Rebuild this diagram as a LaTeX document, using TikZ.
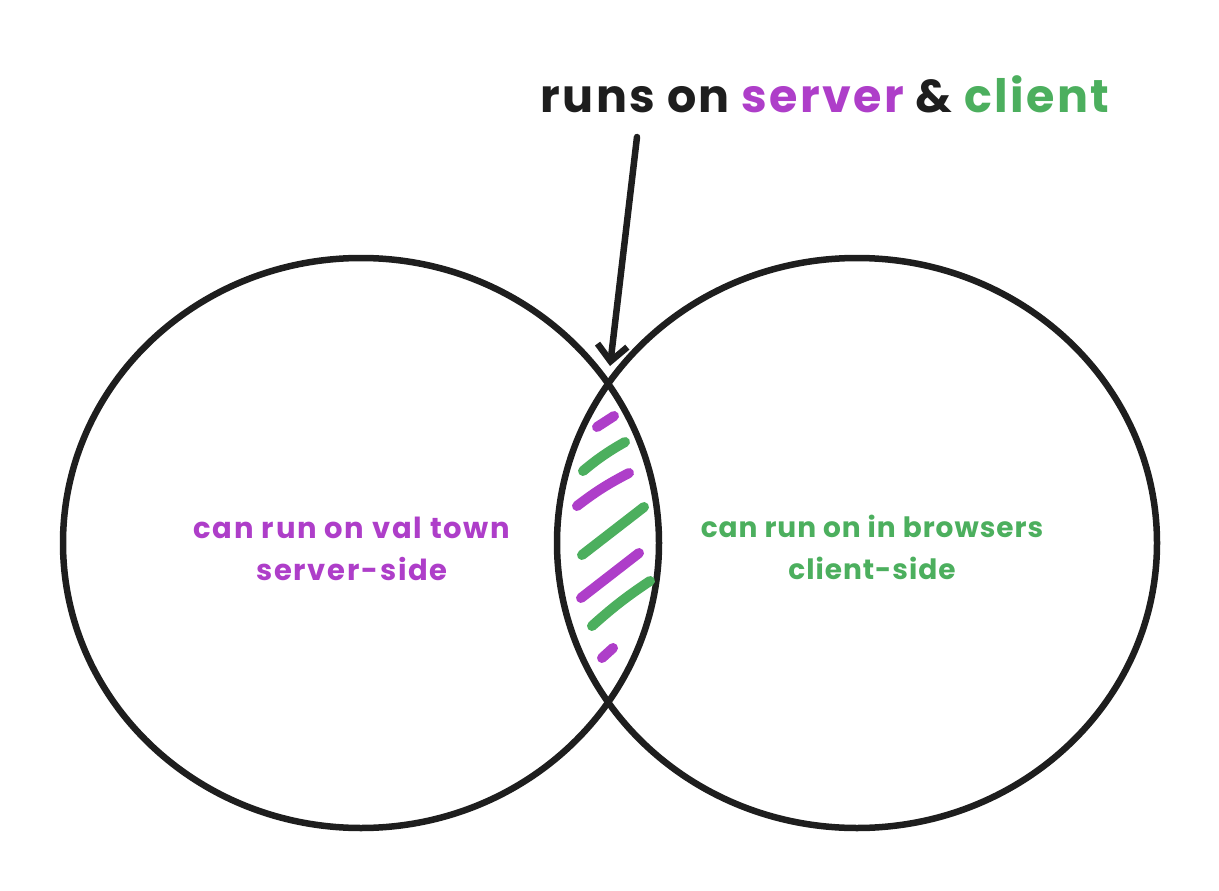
\documentclass[tikz,border=0pt]{standalone}
\usepackage{fontspec}
\setmainfont{Poppins}
\usetikzlibrary{arrows.meta}
\definecolor{ink}{HTML}{1E1E1E}
\definecolor{vio}{HTML}{AE3EC9}
\definecolor{grn}{HTML}{4CAF5E}
\tikzset{
  ring/.style={draw=ink, line width=6.5pt},
  hatchv/.style={draw=vio, line width=10pt, line cap=round},
  hatchg/.style={draw=grn, line width=10pt, line cap=round},
  lbl/.style={font=\fontsize{29}{42}\selectfont\bfseries\addfontfeature{LetterSpace=6}, align=center, inner sep=0pt},
  lblr/.style={font=\fontsize{28}{42}\selectfont\bfseries\addfontfeature{LetterSpace=3.5}, align=center, inner sep=0pt},
  ttl/.style={font=\fontsize{46}{50}\selectfont\bfseries\addfontfeature{LetterSpace=5}, text=ink, inner sep=0pt},
}
\begin{document}
\begin{tikzpicture}[x=1pt,y=-1pt]
\useasboundingbox (0,0) rectangle (1219,891);
% circles
\draw[ring] (361,543) ellipse [x radius=298, y radius=285];
\draw[ring] (857,543) ellipse [x radius=300, y radius=285];
% hatching
\draw[hatchv] (597,427) -- (614,416);
\draw[hatchg] (583,471) to[bend left=5] (625,442);
\draw[hatchv] (577,506) to[bend left=5] (629,473);
\draw[hatchg] (582,555) -- (644,507);
\draw[hatchv] (581,598) -- (639,553);
\draw[hatchg] (592,626) to[bend left=4] (650,581);
\draw[hatchv] (602,658) -- (613,648);
% labels
\node[lbl, text=vio] (left) at (352,549) {can run on val town\\server-side};
\node[lblr, text=grn] (right) at (872,547) {can run on in browsers\\client-side};
% title and arrow
\node[ttl, anchor=base] (title) at (825,113) {runs on \textcolor{vio}{server} \& \textcolor{grn}{client}};
\coordinate (src) at (637,137);
\coordinate (tip) at (610,366);
\draw[ink, line width=6.5pt, line cap=round, -{Straight Barb[length=16pt,width=30pt,line width=6.5pt]}] (src) -- (tip);
\end{tikzpicture}
\end{document}
